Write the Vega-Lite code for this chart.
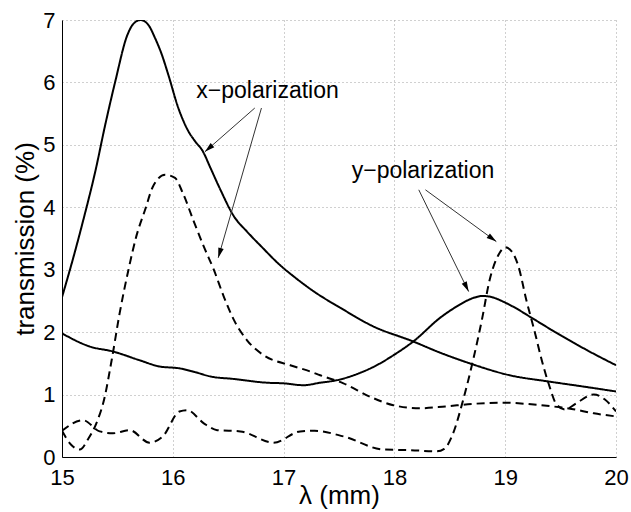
{
  "$schema": "https://vega.github.io/schema/vega-lite/v6.json",
  "width": 554,
  "height": 437,
  "autosize": "none",
  "padding": {"left": 62, "top": 20, "right": 15, "bottom": 55},
  "background": "white",
  "config": {
    "view": {"stroke": null},
    "font": "Liberation Sans",
    "axis": {
      "labelFont": "Liberation Sans",
      "titleFont": "Liberation Sans",
      "labelFontSize": 22,
      "titleFontSize": 26,
      "titleFontWeight": "normal",
      "labelColor": "black",
      "titleColor": "black",
      "domainColor": "black",
      "domainWidth": 1,
      "ticks": false,
      "grid": true,
      "gridColor": "#a0a0a0",
      "gridDash": [1, 3],
      "gridWidth": 1
    }
  },
  "datasets": {
    "curves": [
      {"series": "x-pol", "run": "A", "lambda": 15.0, "T": 2.56},
      {"series": "x-pol", "run": "A", "lambda": 15.1, "T": 3.18},
      {"series": "x-pol", "run": "A", "lambda": 15.2, "T": 3.85},
      {"series": "x-pol", "run": "A", "lambda": 15.3, "T": 4.57},
      {"series": "x-pol", "run": "A", "lambda": 15.39, "T": 5.32},
      {"series": "x-pol", "run": "A", "lambda": 15.48, "T": 6.01},
      {"series": "x-pol", "run": "A", "lambda": 15.59, "T": 6.76},
      {"series": "x-pol", "run": "A", "lambda": 15.65, "T": 6.95},
      {"series": "x-pol", "run": "A", "lambda": 15.71, "T": 7.0},
      {"series": "x-pol", "run": "A", "lambda": 15.78, "T": 6.92},
      {"series": "x-pol", "run": "A", "lambda": 15.84, "T": 6.71},
      {"series": "x-pol", "run": "A", "lambda": 15.9, "T": 6.45},
      {"series": "x-pol", "run": "A", "lambda": 15.96, "T": 6.12},
      {"series": "x-pol", "run": "A", "lambda": 16.05, "T": 5.59},
      {"series": "x-pol", "run": "A", "lambda": 16.14, "T": 5.22},
      {"series": "x-pol", "run": "A", "lambda": 16.2, "T": 5.06},
      {"series": "x-pol", "run": "A", "lambda": 16.27, "T": 4.9},
      {"series": "x-pol", "run": "A", "lambda": 16.34, "T": 4.63},
      {"series": "x-pol", "run": "A", "lambda": 16.43, "T": 4.28},
      {"series": "x-pol", "run": "A", "lambda": 16.55, "T": 3.86},
      {"series": "x-pol", "run": "A", "lambda": 16.67, "T": 3.61},
      {"series": "x-pol", "run": "A", "lambda": 16.8, "T": 3.37},
      {"series": "x-pol", "run": "A", "lambda": 16.97, "T": 3.07},
      {"series": "x-pol", "run": "A", "lambda": 17.1, "T": 2.88},
      {"series": "x-pol", "run": "A", "lambda": 17.25, "T": 2.68},
      {"series": "x-pol", "run": "A", "lambda": 17.54, "T": 2.36},
      {"series": "x-pol", "run": "A", "lambda": 17.8, "T": 2.1},
      {"series": "x-pol", "run": "A", "lambda": 18.17, "T": 1.85},
      {"series": "x-pol", "run": "A", "lambda": 18.4, "T": 1.68},
      {"series": "x-pol", "run": "A", "lambda": 18.68, "T": 1.5},
      {"series": "x-pol", "run": "A", "lambda": 19.04, "T": 1.31},
      {"series": "x-pol", "run": "A", "lambda": 19.39, "T": 1.21},
      {"series": "x-pol", "run": "A", "lambda": 19.7, "T": 1.13},
      {"series": "x-pol", "run": "A", "lambda": 20.0, "T": 1.05},

      {"series": "y-pol", "run": "A", "lambda": 15.0, "T": 1.98},
      {"series": "y-pol", "run": "A", "lambda": 15.25, "T": 1.77},
      {"series": "y-pol", "run": "A", "lambda": 15.46, "T": 1.69},
      {"series": "y-pol", "run": "A", "lambda": 15.7, "T": 1.55},
      {"series": "y-pol", "run": "A", "lambda": 15.88, "T": 1.45},
      {"series": "y-pol", "run": "A", "lambda": 16.06, "T": 1.42},
      {"series": "y-pol", "run": "A", "lambda": 16.2, "T": 1.36},
      {"series": "y-pol", "run": "A", "lambda": 16.34, "T": 1.29},
      {"series": "y-pol", "run": "A", "lambda": 16.55, "T": 1.25},
      {"series": "y-pol", "run": "A", "lambda": 16.85, "T": 1.19},
      {"series": "y-pol", "run": "A", "lambda": 17.0, "T": 1.18},
      {"series": "y-pol", "run": "A", "lambda": 17.18, "T": 1.15},
      {"series": "y-pol", "run": "A", "lambda": 17.33, "T": 1.19},
      {"series": "y-pol", "run": "A", "lambda": 17.48, "T": 1.23},
      {"series": "y-pol", "run": "A", "lambda": 17.65, "T": 1.32},
      {"series": "y-pol", "run": "A", "lambda": 17.84, "T": 1.47},
      {"series": "y-pol", "run": "A", "lambda": 18.0, "T": 1.64},
      {"series": "y-pol", "run": "A", "lambda": 18.17, "T": 1.85},
      {"series": "y-pol", "run": "A", "lambda": 18.42, "T": 2.24},
      {"series": "y-pol", "run": "A", "lambda": 18.59, "T": 2.44},
      {"series": "y-pol", "run": "A", "lambda": 18.7, "T": 2.54},
      {"series": "y-pol", "run": "A", "lambda": 18.8, "T": 2.58},
      {"series": "y-pol", "run": "A", "lambda": 18.9, "T": 2.55},
      {"series": "y-pol", "run": "A", "lambda": 18.98, "T": 2.49},
      {"series": "y-pol", "run": "A", "lambda": 19.1, "T": 2.38},
      {"series": "y-pol", "run": "A", "lambda": 19.22, "T": 2.25},
      {"series": "y-pol", "run": "A", "lambda": 19.49, "T": 1.96},
      {"series": "y-pol", "run": "A", "lambda": 19.75, "T": 1.7},
      {"series": "y-pol", "run": "A", "lambda": 20.0, "T": 1.47},

      {"series": "x-pol", "run": "B", "lambda": 15.0, "T": 0.42},
      {"series": "x-pol", "run": "B", "lambda": 15.08, "T": 0.2},
      {"series": "x-pol", "run": "B", "lambda": 15.16, "T": 0.12},
      {"series": "x-pol", "run": "B", "lambda": 15.24, "T": 0.3},
      {"series": "x-pol", "run": "B", "lambda": 15.31, "T": 0.54},
      {"series": "x-pol", "run": "B", "lambda": 15.38, "T": 0.92},
      {"series": "x-pol", "run": "B", "lambda": 15.45, "T": 1.57},
      {"series": "x-pol", "run": "B", "lambda": 15.52, "T": 2.3},
      {"series": "x-pol", "run": "B", "lambda": 15.6, "T": 3.0},
      {"series": "x-pol", "run": "B", "lambda": 15.67, "T": 3.53},
      {"series": "x-pol", "run": "B", "lambda": 15.75, "T": 3.96},
      {"series": "x-pol", "run": "B", "lambda": 15.82, "T": 4.33},
      {"series": "x-pol", "run": "B", "lambda": 15.93, "T": 4.52},
      {"series": "x-pol", "run": "B", "lambda": 16.02, "T": 4.47},
      {"series": "x-pol", "run": "B", "lambda": 16.09, "T": 4.23},
      {"series": "x-pol", "run": "B", "lambda": 16.19, "T": 3.77},
      {"series": "x-pol", "run": "B", "lambda": 16.28, "T": 3.37},
      {"series": "x-pol", "run": "B", "lambda": 16.37, "T": 3.0},
      {"series": "x-pol", "run": "B", "lambda": 16.46, "T": 2.57},
      {"series": "x-pol", "run": "B", "lambda": 16.55, "T": 2.2},
      {"series": "x-pol", "run": "B", "lambda": 16.67, "T": 1.87},
      {"series": "x-pol", "run": "B", "lambda": 16.82, "T": 1.63},
      {"series": "x-pol", "run": "B", "lambda": 17.06, "T": 1.47},
      {"series": "x-pol", "run": "B", "lambda": 17.24, "T": 1.37},
      {"series": "x-pol", "run": "B", "lambda": 17.33, "T": 1.31},
      {"series": "x-pol", "run": "B", "lambda": 17.54, "T": 1.18},
      {"series": "x-pol", "run": "B", "lambda": 17.8, "T": 0.95},
      {"series": "x-pol", "run": "B", "lambda": 17.99, "T": 0.83},
      {"series": "x-pol", "run": "B", "lambda": 18.23, "T": 0.78},
      {"series": "x-pol", "run": "B", "lambda": 18.46, "T": 0.81},
      {"series": "x-pol", "run": "B", "lambda": 18.7, "T": 0.85},
      {"series": "x-pol", "run": "B", "lambda": 18.98, "T": 0.87},
      {"series": "x-pol", "run": "B", "lambda": 19.2, "T": 0.85},
      {"series": "x-pol", "run": "B", "lambda": 19.43, "T": 0.81},
      {"series": "x-pol", "run": "B", "lambda": 19.6, "T": 0.77},
      {"series": "x-pol", "run": "B", "lambda": 19.8, "T": 0.7},
      {"series": "x-pol", "run": "B", "lambda": 20.0, "T": 0.65},

      {"series": "y-pol", "run": "B", "lambda": 15.0, "T": 0.42},
      {"series": "y-pol", "run": "B", "lambda": 15.19, "T": 0.59},
      {"series": "y-pol", "run": "B", "lambda": 15.34, "T": 0.41},
      {"series": "y-pol", "run": "B", "lambda": 15.46, "T": 0.38},
      {"series": "y-pol", "run": "B", "lambda": 15.61, "T": 0.43},
      {"series": "y-pol", "run": "B", "lambda": 15.79, "T": 0.23},
      {"series": "y-pol", "run": "B", "lambda": 15.91, "T": 0.33},
      {"series": "y-pol", "run": "B", "lambda": 16.06, "T": 0.73},
      {"series": "y-pol", "run": "B", "lambda": 16.13, "T": 0.75},
      {"series": "y-pol", "run": "B", "lambda": 16.28, "T": 0.54},
      {"series": "y-pol", "run": "B", "lambda": 16.4, "T": 0.43},
      {"series": "y-pol", "run": "B", "lambda": 16.61, "T": 0.41},
      {"series": "y-pol", "run": "B", "lambda": 16.91, "T": 0.23},
      {"series": "y-pol", "run": "B", "lambda": 17.15, "T": 0.41},
      {"series": "y-pol", "run": "B", "lambda": 17.28, "T": 0.42},
      {"series": "y-pol", "run": "B", "lambda": 17.54, "T": 0.33},
      {"series": "y-pol", "run": "B", "lambda": 17.9, "T": 0.12},
      {"series": "y-pol", "run": "B", "lambda": 18.14, "T": 0.11},
      {"series": "y-pol", "run": "B", "lambda": 18.38, "T": 0.09},
      {"series": "y-pol", "run": "B", "lambda": 18.45, "T": 0.13},
      {"series": "y-pol", "run": "B", "lambda": 18.53, "T": 0.38},
      {"series": "y-pol", "run": "B", "lambda": 18.62, "T": 0.91},
      {"series": "y-pol", "run": "B", "lambda": 18.71, "T": 1.55},
      {"series": "y-pol", "run": "B", "lambda": 18.79, "T": 2.2},
      {"series": "y-pol", "run": "B", "lambda": 18.86, "T": 2.84},
      {"series": "y-pol", "run": "B", "lambda": 18.94, "T": 3.24},
      {"series": "y-pol", "run": "B", "lambda": 19.0, "T": 3.36},
      {"series": "y-pol", "run": "B", "lambda": 19.06, "T": 3.29},
      {"series": "y-pol", "run": "B", "lambda": 19.12, "T": 3.05},
      {"series": "y-pol", "run": "B", "lambda": 19.19, "T": 2.52},
      {"series": "y-pol", "run": "B", "lambda": 19.27, "T": 1.98},
      {"series": "y-pol", "run": "B", "lambda": 19.33, "T": 1.55},
      {"series": "y-pol", "run": "B", "lambda": 19.4, "T": 1.13},
      {"series": "y-pol", "run": "B", "lambda": 19.46, "T": 0.85},
      {"series": "y-pol", "run": "B", "lambda": 19.54, "T": 0.76},
      {"series": "y-pol", "run": "B", "lambda": 19.64, "T": 0.86},
      {"series": "y-pol", "run": "B", "lambda": 19.8, "T": 1.0},
      {"series": "y-pol", "run": "B", "lambda": 19.9, "T": 0.92},
      {"series": "y-pol", "run": "B", "lambda": 20.0, "T": 0.73}
    ],
    "arrows": [
      {"series": "x-pol", "x": 16.74, "y": 5.59, "x2": 16.29, "y2": 4.89},
      {"series": "x-pol", "x": 16.8, "y": 5.59, "x2": 16.41, "y2": 3.19},
      {"series": "y-pol", "x": 18.22, "y": 4.28, "x2": 18.67, "y2": 2.65},
      {"series": "y-pol", "x": 18.28, "y": 4.28, "x2": 18.92, "y2": 3.45}
    ],
    "labels": [
      {"x": 16.855, "y": 5.746, "text": "x−polarization"},
      {"x": 18.258, "y": 4.464, "text": "y−polarization"}
    ]
  },
  "layer": [
    {
      "data": {"name": "curves"},
      "mark": {"type": "line", "interpolate": "monotone", "strokeWidth": 2, "color": "black", "clip": true},
      "encoding": {
        "x": {"field": "lambda", "type": "quantitative",
              "scale": {"domain": [15, 20], "nice": false, "zero": false},
              "axis": {"values": [15, 16, 17, 18, 19, 20], "format": "d", "title": "λ (mm)", "labelPadding": 10, "titleBaseline": "alphabetic", "titleY": 46, "labelFlush": false}},
        "y": {"field": "T", "type": "quantitative",
              "scale": {"domain": [0, 7], "nice": false},
              "axis": {"values": [0, 1, 2, 3, 4, 5, 6, 7], "format": "d", "title": "transmission (%)", "labelPadding": 7, "titleBaseline": "alphabetic", "titleX": -29, "labelFlush": false}},
        "detail": {"field": "series"},
        "strokeDash": {"field": "run", "type": "nominal",
                       "scale": {"domain": ["A", "B"], "range": [[1, 0], [8, 5]]},
                       "legend": null}
      }
    },
    {
      "data": {"name": "arrows"},
      "mark": {"type": "rule", "strokeWidth": 1, "color": "#333333"},
      "encoding": {
        "x": {"field": "x", "type": "quantitative"},
        "y": {"field": "y", "type": "quantitative"},
        "x2": {"field": "x2"},
        "y2": {"field": "y2"}
      }
    },
    {
      "data": {"name": "arrows"},
      "transform": [
        {"calculate": "atan2((datum.x2 - datum.x) * 110.8, (datum.y2 - datum.y) * 62.43) * 180 / PI + 360", "as": "ang"}
      ],
      "mark": {"type": "point", "shape": "M0,0L0.28,1L-0.28,1Z", "filled": true, "size": 400, "color": "black", "opacity": 1},
      "encoding": {
        "x": {"field": "x2", "type": "quantitative"},
        "y": {"field": "y2", "type": "quantitative"},
        "angle": {"field": "ang", "type": "quantitative", "scale": null}
      }
    },
    {
      "data": {"name": "labels"},
      "mark": {"type": "text", "font": "Liberation Sans", "fontSize": 23, "color": "black", "align": "center", "baseline": "alphabetic"},
      "encoding": {
        "x": {"field": "x", "type": "quantitative"},
        "y": {"field": "y", "type": "quantitative"},
        "text": {"field": "text"}
      }
    }
  ]
}
